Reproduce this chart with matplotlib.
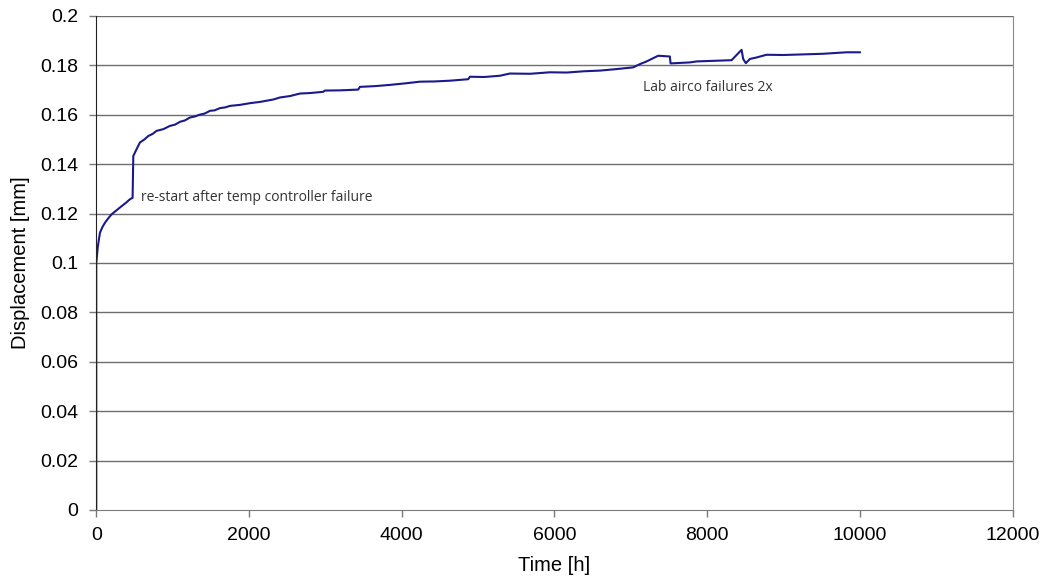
import matplotlib.pyplot as plt

# creep test log: time in hours, displacement in mm
time_h = [0, 0, 5, 20, 48, 80, 114, 160, 201, 260, 332, 390, 441, 476, 485,
          530, 572, 630, 681, 740, 790, 880, 965, 1030, 1100, 1160, 1227,
          1290, 1350, 1420, 1489, 1550, 1620, 1690, 1751, 1880, 2012, 2143,
          2231, 2320, 2405, 2540, 2667, 2800, 2972, 2994, 3200, 3430, 3452,
          3650, 3845, 4040, 4238, 4431, 4631, 4871, 4893, 5080, 5285, 5416,
          5680, 5940, 6160, 6376, 6600, 6813, 7031, 7118, 7206, 7358, 7511,
          7520, 7773, 7861, 8319, 8419, 8450, 8471, 8506, 8559, 8646, 8777,
          8995, 9518, 9825, 9999]
disp_mm = [0, 0.1000, 0.1014, 0.1065, 0.1122, 0.1145, 0.1163, 0.1182, 0.1197,
           0.1212, 0.1230, 0.1244, 0.1258, 0.1264, 0.1433, 0.1462, 0.1488,
           0.1500, 0.1514, 0.1523, 0.1535, 0.1542, 0.1555, 0.1560, 0.1572,
           0.1577, 0.1589, 0.1593, 0.1600, 0.1605, 0.1616, 0.1618, 0.1627,
           0.1630, 0.1636, 0.1640, 0.1647, 0.1652, 0.1657, 0.1662, 0.1670,
           0.1676, 0.1686, 0.1688, 0.1693, 0.1698, 0.1699, 0.1702, 0.1713,
           0.1716, 0.1721, 0.1727, 0.1734, 0.1735, 0.1738, 0.1744, 0.1754,
           0.1753, 0.1758, 0.1767, 0.1766, 0.1772, 0.1771, 0.1776, 0.1779,
           0.1785, 0.1792, 0.1805, 0.1816, 0.1839, 0.1836, 0.1808, 0.1812,
           0.1816, 0.1821, 0.1853, 0.1863, 0.1826, 0.1809, 0.1826, 0.1832,
           0.1843, 0.1842, 0.1847, 0.1853, 0.1853]

y_ticks = [0, 0.02, 0.04, 0.06, 0.08, 0.1, 0.12, 0.14, 0.16, 0.18, 0.2]
y_labels = ['0', '0.02', '0.04', '0.06', '0.08', '0.1', '0.12', '0.14',
            '0.16', '0.18', '0.2']
x_ticks = [0, 2000, 4000, 6000, 8000, 10000, 12000]

notes = [("re-start after temp controller failure", 590, 0.1267),
         ("Lab airco failures 2x", 7165, 0.1712)]

fig = plt.figure(figsize=(10.44, 5.79), dpi=100)
ax = fig.add_axes([0.0922, 0.1192, 0.8778, 0.8532])

ax.plot(time_h, disp_mm, color='#1a1a8c', linewidth=1.5)

ax.set_xlim(0, 12000)
ax.set_ylim(0, 0.2)
ax.set_xticks(x_ticks)
ax.set_xticklabels([str(t) for t in x_ticks])
ax.set_yticks(y_ticks)
ax.set_yticklabels(y_labels)

for y in y_ticks[1:]:
    ax.axhline(y, color='#6e6e6e', linewidth=1.0, zorder=0)

ax.spines['left'].set_color('#222222')
ax.spines['bottom'].set_color('#7a7a7a')
ax.spines['right'].set_color('#8a8a8a')
ax.spines['top'].set_visible(False)
ax.tick_params(direction='out', length=5, width=1, colors='#7a7a7a',
               labelcolor='black', labelsize=14)
ax.tick_params(axis='y', pad=8)
ax.tick_params(axis='x', pad=7)

for lbl in ax.get_xticklabels() + ax.get_yticklabels():
    lbl.set_family('Liberation Sans')

ax.set_xlabel('Time [h]', fontsize=14.5, family='Liberation Sans', labelpad=9)
ax.set_ylabel('Displacement [mm]', fontsize=14.5, family='Liberation Sans',
              labelpad=7)

for text, tx, ty in notes:
    ax.text(tx, ty, text, fontsize=10, family='Open Sans', color='#333333',
            va='center', ha='left')

fig.savefig('out.png', dpi=100)
